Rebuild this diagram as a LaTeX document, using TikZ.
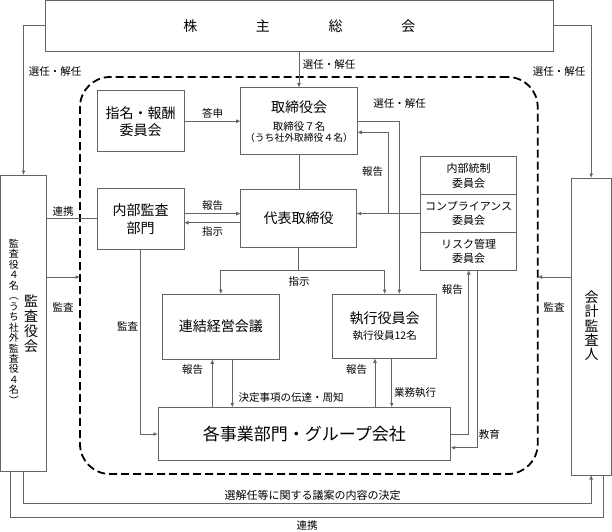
\documentclass[tikz,border=0pt]{standalone}
\usepackage{fontspec}
\setmainfont{Noto Sans CJK JP}
\usetikzlibrary{arrows.meta,calc}
\definecolor{ln}{RGB}{100,100,100}
\begin{document}
\begin{tikzpicture}[x=1pt,y=-1pt,
  box/.style={draw=ln,line width=0.9pt,rectangle,inner sep=0pt,outer sep=0pt,align=center,fill=white},
  conn/.style={draw=ln,line width=0.9pt},
  arr/.style={conn,-{Latex[length=4.5pt,width=4pt]}},
  lbl/.style={font=\fontsize{10.5}{12}\selectfont,inner sep=0pt},
  big/.style={font=\fontsize{14}{17}\selectfont},
  mid/.style={font=\fontsize{11}{14.5}\selectfont},
]
\useasboundingbox (0,0) rectangle (612,531);

% dashed group
\node[draw=black,line width=1.8pt,dash pattern=on 8pt off 4pt,rounded corners=30pt,
  minimum width=457.7pt,minimum height=397pt,inner sep=0pt,outer sep=0pt] (grp) at (308.85,275.5) {};

% boxes
\node[box,big,minimum width=508pt,minimum height=50.8pt] (sh) at (299.3,25.9)
  {株\hspace{58.7pt}主\hspace{58.7pt}総\hspace{58.7pt}会};
\node[box,minimum width=45.6pt,minimum height=296.7pt] (kansa) at (23.5,323.35) {};
\node[align=center,inner sep=0pt,font=\fontsize{14}{15.3}\selectfont] (kansaT) at (31,323.7) {監\\査\\役\\会};
\node[align=center,inner sep=0pt,font=\fontsize{10}{10.45}\selectfont] (kansaS) at (14,321.7)
  {監\\査\\役\\４\\名\\︵\\う\\ち\\社\\外\\監\\査\\役\\４\\名\\︶};
\node[box,minimum width=40.3pt,minimum height=297pt] (kaikei) at (591.15,326.5) {};
\node[align=center,inner sep=0pt,font=\fontsize{14}{14.2}\selectfont] (kaikeiT) at (591.7,325.7) {会\\計\\監\\査\\人};

\node[box,big,minimum width=86.7pt,minimum height=61pt] (shimei) at (140.65,121.2) {指名・報酬\\委員会};
\node[box,minimum width=116.6pt,minimum height=66.6pt] (tori) at (299,121) {};
\node[big,inner sep=0pt] (toriT) at (299,106.7) {取締役会};
\node[lbl] (toriS1) at (299,126) {取締役７名};
\node[inner sep=0pt,font=\fontsize{9.8}{12}\selectfont] (toriS2) at (299,137.7) {（うち社外取締役４名）};

\node[box,font=\fontsize{14}{18}\selectfont,minimum width=86.7pt,minimum height=61pt] (naibu) at (140.65,218.8) {内部監査\\部門};
\node[box,big,minimum width=116pt,minimum height=58.4pt] (daihyo) at (298.7,218.5) {代表取締役};

\node[box,mid,minimum width=96pt,minimum height=37.8pt] (nt1) at (468.7,175.6) {内部統制\\委員会};
\node[box,mid,minimum width=96pt,minimum height=38pt] (nt2) at (468.7,213.5) {コンプライアンス\\委員会};
\node[box,mid,minimum width=96pt,minimum height=37.5pt] (nt3) at (468.7,251.25) {リスク管理\\委員会};

\node[box,big,minimum width=116.3pt,minimum height=65.3pt] (renketsu) at (220.85,326.65) {連結経営会議};
\node[box,minimum width=104pt,minimum height=64.3pt] (shikko) at (384.7,326.15) {};
\node[big,inner sep=0pt] (shikkoT) at (384.7,318.3) {執行役員会};
\node[lbl] (shikkoS) at (384.7,336) {執行役員12名};

\node[box,font=\fontsize{17}{20}\selectfont,minimum width=292.7pt,minimum height=53.4pt] (kaku) at (304.35,434) {各事業部門・グループ会社};

% connectors
\draw[arr] (sh.west) -| (kansa.north);
\draw[arr] (sh.east) -| (kaikei.north);
\draw[arr] (sh.south -| tori.north) -- (tori.north);
\draw[arr] (shimei.east) -- (shimei.east -| tori.west);
\draw[arr] (tori.east) -| ([xshift=14.6pt]shikko.north);
\coordinate (j1) at (388.3,213.5);
\draw[arr] (nt2.west) -- (nt2.west -| daihyo.east);
\draw[arr] (j1) |- (tori.east |- 0,132.3);
\draw[arr] (naibu.east |- 0,213.7) -- (daihyo.west |- 0,213.7);
\draw[arr] (daihyo.west |- 0,222.7) -- (naibu.east |- 0,222.7);
\draw[conn] (tori.south) -- (tori.south |- daihyo.north);
\coordinate (sj) at (298.7,270.7);
\draw[conn] (daihyo.south) -- (sj);
\draw[arr] (sj) -| (renketsu.north);
\draw[arr] (sj) -| (shikko.north);
\draw[arr] (kaku.north -| 212.3,0) -- (renketsu.south -| 212.3,0);
\draw[arr] (renketsu.south -| 232.3,0) -- (kaku.north -| 232.3,0);
\draw[arr] (kaku.north -| 375,0) -- (shikko.south -| 375,0);
\draw[arr] (shikko.south -| 391.7,0) -- (kaku.north -| 391.7,0);
\draw[arr] (naibu.south) |- (kaku.west);
\draw[arr] (kaku.east) -| (nt3.south);
\draw[arr] ([xshift=8.6pt]nt3.south) |- (kaku.east |- 0,447.7);
\draw[conn] (kansa.east |- naibu.west) -- (naibu.west);
\draw[arr] (kansa.east |- 0,277) -- (grp.west |- 0,277);
\draw[arr] (kaikei.west |- 0,277) -- (grp.east |- 0,277);
\draw[arr] (kansa.south) -- ++(0,31.6) -| (kaikei.south);
\draw[conn] ([xshift=-12.8pt]kansa.south) -- ++(0,45.6) -| ([xshift=12.6pt]kaikei.south);

% labels
\node[lbl] (l1) at (55,71.7) {選任・解任};
\node[lbl] (l2) at (329,64.3) {選任・解任};
\node[lbl] (l3) at (559,71.7) {選任・解任};
\node[lbl] (l4) at (399.5,103.3) {選任・解任};
\node[lbl] (l5) at (212.7,113.3) {答申};
\node[lbl] (l6) at (372.7,171.7) {報告};
\node[lbl] (l7) at (63,211.7) {連携};
\node[lbl] (l8) at (212.7,205.7) {報告};
\node[lbl] (l9) at (212.7,232) {指示};
\node[lbl] (l10) at (63,307.3) {監査};
\node[lbl] (l11) at (127.7,326.7) {監査};
\node[lbl] (l12) at (299,281.7) {指示};
\node[lbl] (l13) at (192.6,369.3) {報告};
\node[lbl] (l14) at (291,397.7) {決定事項の伝達・周知};
\node[lbl] (l15) at (356.6,369.3) {報告};
\node[lbl] (l16) at (415,392.7) {業務執行};
\node[lbl] (l17) at (452.3,289.3) {報告};
\node[lbl] (l18) at (489.3,434.3) {教育};
\node[lbl] (l19) at (554,307.3) {監査};
\node[inner sep=0pt,font=\fontsize{11}{12}\selectfont] (l20) at (312.7,495) {選解任等に関する議案の内容の決定};
\node[lbl] (l21) at (307,526) {連携};
\end{tikzpicture}
\end{document}
